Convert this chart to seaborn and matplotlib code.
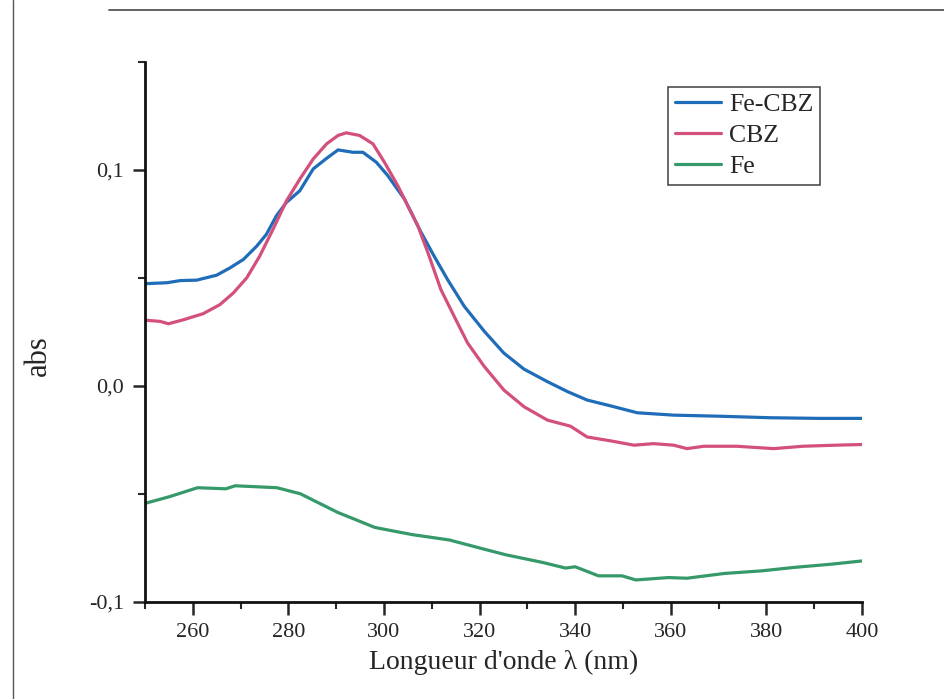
import matplotlib
matplotlib.use("Agg")
import matplotlib.pyplot as plt
from matplotlib.lines import Line2D
from matplotlib.ticker import MultipleLocator
import pandas as pd
import seaborn as sns

# values
wl_fecbz = [250.4, 254.6, 257.4, 260.8, 265.0, 267.8, 270.6, 273.4, 275.4, 277.5,
            279.6, 282.4, 285.2, 288.0, 290.4, 293.5, 295.6, 298.4, 300.8, 304.3,
            307.8, 310.5, 313.3, 316.8, 321.0, 325.1, 329.3, 334.2, 338.4, 342.5,
            347.4, 353.0, 360.6, 370.3, 380.8, 391.2, 400.0]
abs_fecbz = [0.0474, 0.0478, 0.0488, 0.0490, 0.0513, 0.0547, 0.0586, 0.0648, 0.0702, 0.0788,
             0.0850, 0.0904, 0.1005, 0.1054, 0.1093, 0.1082, 0.1082, 0.1036, 0.0974, 0.0865,
             0.0710, 0.0601, 0.0493, 0.0369, 0.0253, 0.0152, 0.0078, 0.0020, -0.0026, -0.0065,
             -0.0092, -0.0124, -0.0135, -0.0140, -0.0147, -0.0150, -0.0150]

wl_cbz = [250.4, 253.2, 254.9, 258.1, 262.2, 265.7, 268.5, 271.3, 274.0, 276.8,
          279.6, 282.4, 285.2, 288.0, 290.4, 292.1, 294.9, 297.7, 300.1, 302.9,
          305.0, 307.1, 309.2, 311.9, 314.7, 317.5, 321.0, 325.1, 329.3, 334.2,
          339.0, 342.5, 347.4, 352.3, 356.4, 360.6, 363.4, 366.9, 373.8, 381.5,
          387.7, 394.6, 400.0]
abs_cbz = [0.0304, 0.0299, 0.0288, 0.0307, 0.0335, 0.0377, 0.0431, 0.0501, 0.0601, 0.0726,
           0.0857, 0.0958, 0.1051, 0.1121, 0.1160, 0.1172, 0.1160, 0.1121, 0.1036, 0.0927,
           0.0834, 0.0741, 0.0617, 0.0447, 0.0322, 0.0199, 0.0090, -0.0019, -0.0096, -0.0158,
           -0.0186, -0.0236, -0.0254, -0.0274, -0.0267, -0.0274, -0.0290, -0.0279, -0.0279, -0.0290,
           -0.0279, -0.0274, -0.0271]

wl_fe = [250.1, 255.2, 261.0, 266.9, 268.9, 277.6, 282.5, 290.3, 298.1, 305.9,
         313.7, 319.5, 325.4, 333.2, 338.0, 340.0, 344.9, 349.8, 352.7, 359.5,
         363.4, 371.2, 379.0, 385.8, 393.6, 400.0]
abs_fe = [-0.0543, -0.0512, -0.0471, -0.0476, -0.0462, -0.0471, -0.0499, -0.0585, -0.0655, -0.0688,
          -0.0713, -0.0747, -0.0781, -0.0817, -0.0843, -0.0837, -0.0879, -0.0879, -0.0898, -0.0887,
          -0.0890, -0.0868, -0.0856, -0.0840, -0.0825, -0.0810]

series_names = ["Fe-CBZ", "CBZ", "Fe"]
series_colors = ["#1f6cb8", "#d4507c", "#35996a"]
x_ticks = [260, 280, 300, 320, 340, 360, 380, 400]
y_ticks = [-0.1, 0.0, 0.1]
y_tick_labels = ["-0,1", "0,0", "0,1"]

df = pd.concat([
    pd.DataFrame({"wl": wl_fecbz, "abs": abs_fecbz, "name": "Fe-CBZ"}),
    pd.DataFrame({"wl": wl_cbz, "abs": abs_cbz, "name": "CBZ"}),
    pd.DataFrame({"wl": wl_fe, "abs": abs_fe, "name": "Fe"}),
])

sns.set_style("ticks")
plt.rcParams["font.family"] = ["Liberation Serif", "DejaVu Serif"]

fig = plt.figure(figsize=(9.45, 6.99), dpi=100)
ax = fig.add_axes([0.1534, 0.1388, 0.7587, 0.7725])

sns.lineplot(data=df, x="wl", y="abs", hue="name", hue_order=series_names,
             palette=series_colors, linewidth=2.3, sort=False, ax=ax)

ax.set_xlim(250, 400)
ax.set_ylim(-0.1, 0.15)
ax.set_xticks(x_ticks)
ax.set_yticks(y_ticks, labels=y_tick_labels)
ax.xaxis.set_minor_locator(MultipleLocator(10))
ax.yaxis.set_minor_locator(MultipleLocator(0.05))
ax.tick_params(which="major", direction="out", length=9, width=1.8, labelsize=16, pad=6)
ax.tick_params(which="minor", direction="out", length=5, width=1.5)

for side in ["top", "right"]:
    ax.spines[side].set_visible(False)
for side in ["left", "bottom"]:
    ax.spines[side].set_linewidth(2.0)
    ax.spines[side].set_color("#111111")

ax.set_xlabel("Longueur d'onde λ (nm)", fontsize=20, labelpad=6)
ax.set_ylabel("abs", fontsize=22)
ax.yaxis.set_label_coords(-0.129, 0.457)

leg = ax.legend(loc="upper right", bbox_to_anchor=(0.941, 0.954), fontsize=18.5,
                frameon=True, fancybox=False, edgecolor="#222222", handlelength=1.8,
                handletextpad=0.3, borderpad=0.25, labelspacing=0.31, borderaxespad=0)
leg.get_frame().set_linewidth(1.2)

# edges of the scanned page
fig.add_artist(Line2D([0.014, 0.014], [0.0, 1.0], color="#555555", linewidth=1.0))
fig.add_artist(Line2D([0.115, 1.0], [0.985, 0.985], color="#555555", linewidth=1.3))

fig.savefig("out.png", dpi=100)
